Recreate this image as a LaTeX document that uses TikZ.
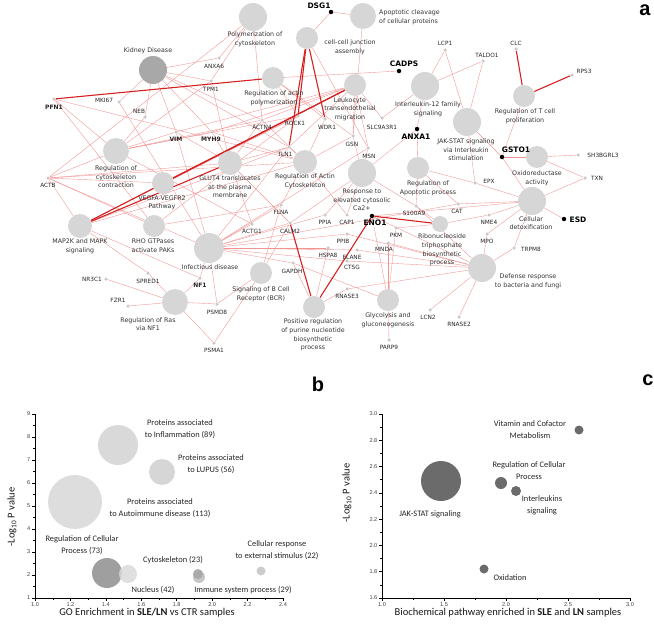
\documentclass[tikz,border=0pt]{standalone}
\usepackage{fontspec}
\setmainfont{DejaVu Sans}
\newfontfamily\calfont{Carlito}
\newfontfamily\arlfont{Liberation Sans}
\usetikzlibrary{backgrounds}
\definecolor{termgray}{HTML}{D6D6D6}
\definecolor{kidgray}{HTML}{A8A8A8}
\definecolor{dotgray}{HTML}{C8C8C8}
\definecolor{edgel}{HTML}{F29494}
\definecolor{edged}{HTML}{D42222}
\definecolor{tgray}{HTML}{333333}
\definecolor{bubc}{HTML}{6B6B6B}
\begin{document}
\begin{tikzpicture}[x=1pt,y=-1pt,
  term/.style={circle,fill=termgray,inner sep=0pt,minimum size=2*#1},
  tl/.style={font=\fontsize{6.3}{8.6}\selectfont,text=tgray,align=center,inner sep=0pt},
  g/.style={circle,fill=dotgray,inner sep=0pt,minimum size=3.5},
  gb/.style={circle,fill=black,inner sep=0pt,minimum size=4.5},
  gl/.style={font=\fontsize{5.8}{6}\selectfont,text=black!85,inner sep=0pt},
  glm/.style={font=\bfseries\fontsize{6}{6}\selectfont,text=black!85,inner sep=0pt},
  glb/.style={font=\bfseries\fontsize{7.5}{7.5}\selectfont,text=black,inner sep=0pt},
  e/.style={draw=edgel,line width=0.38pt},
  E/.style={draw=edged,line width=1.1pt},
  ax/.style={draw=black,line width=0.6pt},
  tk/.style={font=\arlfont\fontsize{5.6}{6}\selectfont,text=black!75,inner sep=0pt},
  cl/.style={font=\calfont\fontsize{8.4}{12}\selectfont,text=black!85,inner sep=0pt,align=center},
  axtitle/.style={font=\calfont\fontsize{10.5}{12}\selectfont,text=black!90,inner sep=0pt},
  pl/.style={font=\arlfont\bfseries\fontsize{20}{20}\selectfont,inner sep=0pt}]
\useasboundingbox (0,0) rectangle (654,629);

% ---------------- term nodes ----------------
\node[term=14,fill=kidgray] (kid) at (153,70) {};
\node[term=14] (poly) at (253,17) {};
\node[term=13] (apop) at (363,16) {};
\node[term=11] (junc) at (307,38) {};
\node[term=11] (actpoly) at (273,78) {};
\node[term=11] (leuk) at (355,85) {};
\node[term=14] (il12) at (425,86) {};
\node[term=11] (regT) at (524,96) {};
\node[term=14] (jak) at (467,122) {};
\node[term=13] (contr) at (116,151) {};
\node[term=11] (vegfa) at (163,183) {};
\node[term=12] (glut) at (230,163) {};
\node[term=12] (actcyto) at (305,162) {};
\node[term=14] (ca) at (362,173) {};
\node[term=11] (regapop) at (418,168) {};
\node[term=11] (oxido) at (537,157) {};
\node[term=14] (detox) at (532,201) {};
\node[term=8] (ribo) at (440,224) {};
\node[term=12] (map2k) at (80,226) {};
\node[term=11] (rho) at (154,226) {};
\node[term=15] (infect) at (209,248) {};
\node[term=11] (sigb) at (261,273) {};
\node[term=11] (posreg) at (314,307) {};
\node[term=11] (glyco) at (388,300) {};
\node[term=14] (defense) at (482,268) {};
\node[term=13] (ras) at (175,302) {};

% ---------------- gene nodes ----------------
\node[g] (pfn1) at (54,99) {};
\node[g] (mki67) at (119,102) {};
\node[g] (neb) at (145,117) {};
\node[g] (vim) at (176,132) {};
\node[g] (myh9) at (212,132) {};
\node[g] (anxa6) at (219,58) {};
\node[g] (tpm1) at (211,81) {};
\node[g] (actb) at (48,178) {};
\node[g] (actn4) at (262,120) {};
\node[g] (rock1) at (298,116) {};
\node[g] (wdr1) at (325,119) {};
\node[g] (slc) at (382,118) {};
\node[gb] (anxa1) at (417,129) {};
\node[g] (gsn) at (353,136) {};
\node[g] (msn) at (368,148) {};
\node[g] (tln1) at (289,147) {};
\node[gb] (dsg1) at (331,12) {};
\node[gb] (cadps) at (399,71) {};
\node[g] (lcp1) at (445,50) {};
\node[g] (taldo1) at (483,61) {};
\node[g] (clc) at (516,49) {};
\node[g] (rps3) at (572,75) {};
\node[gb] (gsto1) at (502,157) {};
\node[g] (sh3) at (578,155) {};
\node[g] (txn) at (585,178) {};
\node[gb] (esd) at (564,219) {};
\node[g] (epx) at (475,183) {};
\node[g] (cat) at (458,204) {};
\node[g] (nme4) at (489,215) {};
\node[g] (mpo) at (487,234) {};
\node[g] (trpm8) at (514,248) {};
\node[g] (lcn2) at (430,310) {};
\node[g] (rnase2) at (459,317) {};
\node[g] (s100a9) at (416,206) {};
\node[gb] (eno1) at (372,216) {};
\node[g] (pkm) at (396,228) {};
\node[g] (mnda) at (388,243) {};
\node[g] (cap1) at (347,215) {};
\node[g] (ppia) at (325,215) {};
\node[g] (ppib) at (347,234) {};
\node[g] (hspa8) at (328,248) {};
\node[g] (elane) at (357,250) {};
\node[g] (ctsg) at (347,261) {};
\node[g] (calm2) at (290,223) {};
\node[g] (flna) at (281,205) {};
\node[g] (actg1) at (252,224) {};
\node[g] (gapdh) at (293,263) {};
\node[g] (rnase3) at (347,289) {};
\node[g] (parp9) at (389,340) {};
\node[g] (psmd8) at (217,304) {};
\node[g] (psma1) at (214,343) {};
\node[g] (nf1) at (200,278) {};
\node[g] (spred1) at (148,273) {};
\node[g] (nr3c1) at (106,279) {};
\node[g] (fzr1) at (128,306) {};

% ---------------- edges ----------------
\begin{scope}[on background layer]
\foreach \a/\b in {pfn1/actcyto,pfn1/contr,pfn1/rho,
  mki67/kid,mki67/infect,neb/kid,neb/contr,
  vim/kid,vim/contr,vim/infect,vim/leuk,vim/glut,
  myh9/kid,myh9/contr,myh9/glut,myh9/leuk,myh9/actcyto,
  anxa6/poly,anxa6/kid,tpm1/kid,tpm1/contr,tpm1/poly,tpm1/glut,
  actb/contr,actb/map2k,actb/vegfa,actb/infect,actb/rho,actb/actcyto,actb/poly,actb/glut,
  actn4/poly,actn4/leuk,actn4/glut,actn4/contr,actn4/actcyto,actn4/kid,
  rock1/contr,rock1/vegfa,rock1/map2k,rock1/rho,rock1/actpoly,
  wdr1/actpoly,wdr1/actcyto,
  tln1/actcyto,tln1/leuk,tln1/glut,tln1/infect,tln1/map2k,tln1/kid,
  gsn/leuk,gsn/actpoly,gsn/actcyto,gsn/apop,gsn/ca,
  msn/leuk,msn/ca,msn/junc,msn/infect,
  slc/leuk,slc/il12,anxa1/il12,anxa1/regapop,anxa1/ca,
  dsg1/junc,dsg1/apop,cadps/actpoly,
  lcp1/il12,lcp1/jak,taldo1/il12,taldo1/jak,
  gsto1/jak,gsto1/regT,gsto1/oxido,gsto1/detox,
  sh3/oxido,txn/oxido,txn/detox,esd/detox,
  epx/jak,epx/detox,epx/regapop,
  cat/detox,cat/regapop,cat/infect,
  nme4/ribo,nme4/detox,mpo/detox,mpo/defense,trpm8/detox,trpm8/defense,
  lcn2/defense,rnase2/defense,
  s100a9/regapop,s100a9/ca,s100a9/ribo,s100a9/defense,
  eno1/glyco,eno1/defense,eno1/detox,
  pkm/glyco,pkm/ribo,mnda/defense,mnda/glyco,
  cap1/ca,cap1/actcyto,ppia/ca,ppia/infect,ppib/infect,ppib/defense,
  hspa8/infect,hspa8/posreg,elane/defense,elane/infect,ctsg/defense,ctsg/infect,
  calm2/ca,calm2/sigb,calm2/glut,calm2/infect,
  flna/actcyto,flna/infect,flna/rho,flna/sigb,
  actg1/glut,actg1/infect,actg1/contr,
  gapdh/glyco,gapdh/infect,gapdh/posreg,
  rnase3/posreg,rnase3/defense,parp9/glyco,
  psmd8/ras,psmd8/sigb,psmd8/infect,psma1/ras,psma1/sigb,
  nf1/ras,nf1/infect,nf1/map2k,spred1/ras,spred1/map2k,
  nr3c1/ras,fzr1/ras,map2k/actcyto}
  \draw[e] (\a) -- (\b);
\foreach \a/\b in {pfn1/actpoly,rock1/junc,wdr1/junc,tln1/junc,leuk/map2k,
  map2k/glut,vegfa/leuk,eno1/posreg,calm2/posreg,eno1/ribo,clc/regT,rps3/regT}
  \draw[E] (\a) -- (\b);
\end{scope}

% ---------------- term labels ----------------
\node[tl] (kid-l) at (148,51) {Kidney Disease};
\node[tl] (poly-l) at (255,39.5) {Polymerization of\\cytoskeleton};
\node[tl,anchor=west,align=left] (apop-l) at (379,17) {Apoptotic cleavage\\of cellular proteins};
\node[tl] (junc-l) at (350,47.5) {cell-cell junction\\assembly};
\node[tl] (actpoly-l) at (274,98) {Regulation of actin\\polymerization};
\node[tl] (leuk-l) at (350,109) {Leukocyte\\transendothelial\\migration};
\node[tl] (il12-l) at (428,109) {Interleukin-12 family\\signaling};
\node[tl] (regT-l) at (525,116) {Regulation of T cell\\proliferation};
\node[tl] (jak-l) at (466,150) {JAK-STAT signaling\\via Interleukin\\stimulation};
\node[tl] (contr-l) at (116,177) {Regulation of\\cytoskeleton\\contraction};
\node[tl] (vegfa-l) at (162,203) {VEGFA-VEGFR2\\Pathway};
\node[tl] (glut-l) at (230,187) {GLUT4 translocates\\at the plasma\\membrane};
\node[tl] (actcyto-l) at (305,181) {Regulation of Actin\\Cytoskeleton};
\node[tl] (ca-l) at (362,200) {Response to\\elevated cytosolic\\Ca2+};
\node[tl] (regapop-l) at (428,188) {Regulation of\\Apoptotic process};
\node[tl] (oxido-l) at (537,178) {Oxidoreductase\\activity};
\node[tl] (detox-l) at (531,223) {Cellular\\detoxification};
\node[tl] (ribo-l) at (442,250) {Ribonucleoside\\triphosphate\\biosynthetic\\process};
\node[tl] (map2k-l) at (80,246) {MAP2K and MAPK\\signaling};
\node[tl] (rho-l) at (153,246) {RHO GTPases\\activate PAKs};
\node[tl] (infect-l) at (210,267) {Infectious disease};
\node[tl] (sigb-l) at (261,294) {Signaling of B Cell\\Receptor (BCR)};
\node[tl] (posreg-l) at (313,335) {Positive regulation\\of purine nucleotide\\biosynthetic\\process};
\node[tl] (glyco-l) at (388,320) {Glycolysis and\\gluconeogenesis};
\node[tl] (defense-l) at (528,281) {Defense response\\to bacteria and fungi};
\node[tl] (ras-l) at (148,324) {Regulation of Ras\\via NF1};

% ---------------- gene labels ----------------
\node[glm] (pfn1-l) at (54,107) {PFN1};
\node[gl] (mki67-l) at (104,100) {MKI67};
\node[gl] (neb-l) at (139,111) {NEB};
\node[glm] (vim-l) at (176,139) {VIM};
\node[glm] (myh9-l) at (211,139) {MYH9};
\node[gl] (anxa6-l) at (214,66) {ANXA6};
\node[gl] (tpm1-l) at (211,89) {TPM1};
\node[gl] (actb-l) at (48,185) {ACTB};
\node[gl] (actn4-l) at (262,127) {ACTN4};
\node[gl] (rock1-l) at (295,123) {ROCK1};
\node[gl] (wdr1-l) at (327,127) {WDR1};
\node[gl] (slc-l) at (382,127) {SLC9A3R1};
\node[glb] (anxa1-l) at (416,137) {ANXA1};
\node[gl] (gsn-l) at (352,144) {GSN};
\node[gl] (msn-l) at (369,156) {MSN};
\node[gl] (tln1-l) at (285,154) {TLN1};
\node[glb] (dsg1-l) at (319,6) {DSG1};
\node[glb] (cadps-l) at (404,64) {CADPS};
\node[gl] (lcp1-l) at (445,43) {LCP1};
\node[gl] (taldo1-l) at (487,55) {TALDO1};
\node[gl] (clc-l) at (516,43) {CLC};
\node[gl] (rps3-l) at (584,71) {RPS3};
\node[glb] (gsto1-l) at (516,150) {GSTO1};
\node[gl] (sh3-l) at (603,155) {SH3BGRL3};
\node[gl] (txn-l) at (597,178) {TXN};
\node[glb] (esd-l) at (578,220) {ESD};
\node[gl] (epx-l) at (489,181) {EPX};
\node[gl] (cat-l) at (457,211) {CAT};
\node[gl] (nme4-l) at (489,222) {NME4};
\node[gl] (mpo-l) at (487,241) {MPO};
\node[gl] (trpm8-l) at (531,249) {TRPM8};
\node[gl] (lcn2-l) at (428,317) {LCN2};
\node[gl] (rnase2-l) at (459,324) {RNASE2};
\node[gl] (s100a9-l) at (414,213) {S100A9};
\node[glb] (eno1-l) at (375,223) {ENO1};
\node[gl] (pkm-l) at (396,235) {PKM};
\node[gl] (mnda-l) at (384,249) {MNDA};
\node[gl] (cap1-l) at (347,222) {CAP1};
\node[gl] (ppia-l) at (325,222) {PPIA};
\node[gl] (ppib-l) at (343,241) {PPIB};
\node[gl] (hspa8-l) at (328,255) {HSPA8};
\node[gl] (elane-l) at (352,257) {ELANE};
\node[gl] (ctsg-l) at (352,267) {CTSG};
\node[gl] (calm2-l) at (290,231) {CALM2};
\node[gl] (flna-l) at (281,212) {FLNA};
\node[gl] (actg1-l) at (252,231) {ACTG1};
\node[gl] (gapdh-l) at (292,271) {GAPDH};
\node[gl] (rnase3-l) at (347,296) {RNASE3};
\node[gl] (parp9-l) at (389,347) {PARP9};
\node[gl] (psmd8-l) at (217,312) {PSMD8};
\node[gl] (psma1-l) at (214,350) {PSMA1};
\node[glm] (nf1-l) at (200,285) {NF1};
\node[gl] (spred1-l) at (148,281) {SPRED1};
\node[gl] (nr3c1-l) at (92,279) {NR3C1};
\node[gl] (fzr1-l) at (118,300) {FZR1};

% ---------------- panel letters ----------------
\node[pl] (pa) at (645,10) {a};
\node[pl] (pb) at (318,384) {b};
\node[pl] (pc) at (648,380) {c};

% ---------------- panel b ----------------
\fill[gray!30,opacity=0.9] (75,502) circle[radius=27pt];
\fill[gray!33,opacity=0.9] (118,445) circle[radius=20pt];
\fill[gray!36,opacity=0.9] (162,472) circle[radius=13pt];
\fill[gray!75] (107,573) circle[radius=15pt];
\fill[gray!30,opacity=0.85] (128,574) circle[radius=9pt];
\fill[gray!45] (199,577) circle[radius=6pt];
\fill[gray!70,opacity=0.9] (198,574) circle[radius=5pt];
\fill[gray!40] (261,571) circle[radius=4.5pt];
\draw[ax] (35,414) -- (35,598) -- (283,598);
\foreach \i in {1,...,9} {
  \draw[ax] (35,{598-(\i-1)*23}) -- ++(-3,0);
  \node[tk,anchor=east] (by\i) at (30.5,{598-(\i-1)*23}) {\i};
}
\foreach \i in {1,...,8} \draw[ax,line width=0.4pt] (35,{598-(\i-0.5)*23}) -- ++(-1.7,0);
\foreach \i/\t in {0/1.0,1/1.2,2/1.4,3/1.6,4/1.8,5/2.0,6/2.2,7/2.4} {
  \draw[ax] ({35+\i*35.43},598) -- ++(0,3);
  \node[tk,anchor=north] (bx\i) at ({35+\i*35.43},602.5) {\t};
}
\foreach \i in {0,...,6} \draw[ax,line width=0.4pt] ({35+(\i+0.5)*35.43},598) -- ++(0,1.7);
\node[cl] (b1) at (180,429) {Proteins associated\\to Inflammation (89)};
\node[cl] (b2) at (211,464) {Proteins associated\\to LUPUS (56)};
\node[cl] (b3) at (160,508) {Proteins associated\\to Autoimmune disease (113)};
\node[cl] (b4) at (82,545) {Regulation of Cellular\\Process (73)};
\node[cl] (b5) at (173,560) {Cytoskeleton (23)};
\node[cl] (b6) at (277,550) {Cellular response\\to external stimulus (22)};
\node[cl] (b7) at (153,590) {Nucleus (42)};
\node[cl] (b8) at (243,590) {Immune system process (29)};
\node[axtitle] (bxl) at (147,613) {GO Enrichment in \textbf{SLE/LN} vs CTR samples};
\node[axtitle,rotate=90] (byl) at (12,517) {-Log\textsubscript{10} P value};

% ---------------- panel c ----------------
\fill[bubc] (441,481) circle[radius=20pt];
\fill[bubc] (501,483) circle[radius=6pt];
\fill[bubc] (516,491) circle[radius=5pt];
\fill[bubc] (579,430) circle[radius=4.5pt];
\fill[bubc] (484,569) circle[radius=4.5pt];
\draw[ax] (382,414) -- (382,598) -- (630,598);
\foreach \i/\t in {0/1.6,1/1.8,2/2.0,3/2.2,4/2.4,5/2.6,6/2.8,7/3.0} {
  \draw[ax] (382,{598-\i*26.29}) -- ++(-3,0);
  \node[tk,anchor=east] (cy\i) at (377.5,{598-\i*26.29}) {\t};
}
\foreach \i in {0,...,6} \draw[ax,line width=0.4pt] (382,{598-(\i+0.5)*26.29}) -- ++(-1.7,0);
\foreach \i/\t in {0/1.0,1/1.5,2/2.0,3/2.5,4/3.0} {
  \draw[ax] ({382+\i*62},598) -- ++(0,3);
  \node[tk,anchor=north] (cx\i) at ({382+\i*62},602.5) {\t};
}
\foreach \i in {0,...,3} \draw[ax,line width=0.4pt] ({382+(\i+0.5)*62},598) -- ++(0,1.7);
\node[cl] (c1) at (530,430) {Vitamin and Cofactor\\Metabolism};
\node[cl] (c2) at (529,471) {Regulation of Cellular\\Process};
\node[cl] (c3) at (542,505.5) {Interleukins\\signaling};
\node[cl] (c4) at (430,514) {JAK-STAT signaling};
\node[cl] (c5) at (510,578) {Oxidation};
\node[axtitle] (cxl) at (508,613) {Biochemical pathway enriched in \textbf{SLE} and \textbf{LN} samples};
\node[axtitle,rotate=90] (cyl) at (347,493) {-Log\textsubscript{10} P value};
\end{tikzpicture}
\end{document}
